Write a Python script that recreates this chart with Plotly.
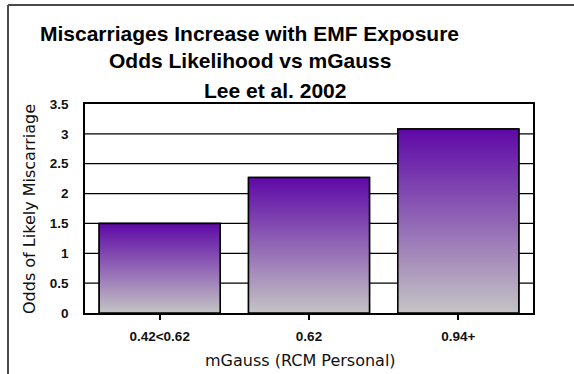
import plotly.graph_objects as go

# Odds of likely miscarriage by personal magnetic field exposure (Lee et al. 2002)
categories = ["0.42<0.62", "0.62", "0.94+"]
odds = [1.5, 2.27, 3.08]
y_ticks = [0, 0.5, 1, 1.5, 2, 2.5, 3, 3.5]
y_tick_labels = ["0", "0.5", "1", "1.5", "2", "2.5", "3", "3.5"]

title_lines = [
    "Miscarriages Increase with EMF Exposure",
    "Odds Likelihood vs mGauss",
    "Lee et al. 2002",
]
x_title = "mGauss (RCM Personal)"
y_title = "Odds of Likely Miscarriage"

BAR_WIDTH = 0.81
TOP_COLOR = "#5e08a6"
BOTTOM_COLOR = "#c4c4c4"
FONT = "Liberation Sans, Arial, sans-serif"
WIDE_FONT = "DejaVu Sans, sans-serif"

W, H = 574, 374
M_L, M_R, M_T, M_B = 85, 41, 104, 61
PLOT_W = W - M_L - M_R
PLOT_H = H - M_T - M_B


def px_x(px):
    return (px - M_L) / PLOT_W


def px_y(py):
    return 1 + (M_T - py) / PLOT_H


xs = list(range(len(categories)))

fig = go.Figure()

# horizontal grid lines behind the bars
for t in y_ticks[1:-1]:
    fig.add_shape(type="line", xref="paper", yref="y", x0=0, x1=1, y0=t, y1=t,
                  line=dict(color="black", width=1.3), layer="below")

# base bars (outlined), with a vertical gradient fill laid over each one
fig.add_trace(go.Bar(
    x=xs, y=odds, width=BAR_WIDTH,
    marker=dict(color="#9070b4", line=dict(color="black", width=1.5)),
    hoverinfo="x+y", showlegend=False,
))

half = BAR_WIDTH / 2
for x, v in zip(xs, odds):
    fig.add_trace(go.Scatter(
        x=[x - half, x - half, x + half, x + half, x - half],
        y=[0, v, v, 0, 0],
        mode="lines",
        fill="toself",
        fillgradient=dict(type="vertical",
                          colorscale=[[0, BOTTOM_COLOR], [1, TOP_COLOR]]),
        line=dict(color="black", width=1.5),
        hoverinfo="skip", showlegend=False,
    ))

# title lines
title_y = [33, 61, 90]
title_x = [249, 250, 275]
annotations = []
for text, px, py in zip(title_lines, title_x, title_y):
    annotations.append(dict(
        text="<b>%s</b>" % text,
        xref="paper", yref="paper", x=px_x(px), y=px_y(py),
        xanchor="center", yanchor="middle", showarrow=False,
        font=dict(family=FONT, size=21, color="black"),
    ))

# axis titles
annotations.append(dict(
    text=x_title, xref="paper", yref="paper", x=px_x(300), y=px_y(360),
    xanchor="center", yanchor="middle", showarrow=False,
    font=dict(family=WIDE_FONT, size=16, color="#111"),
))
annotations.append(dict(
    text=y_title, xref="paper", yref="paper", x=px_x(29), y=px_y(209),
    xanchor="center", yanchor="middle", showarrow=False, textangle=-90,
    font=dict(family=WIDE_FONT, size=16, color="#111"),
))

# outer frame (top and left edges visible)
frame_left = px_x(8)
frame_top = px_y(5)
fig.add_shape(type="line", xref="paper", yref="paper",
              x0=frame_left, x1=px_x(W + 5), y0=frame_top, y1=frame_top,
              line=dict(color="#4a4a4a", width=2))
fig.add_shape(type="line", xref="paper", yref="paper",
              x0=frame_left, x1=frame_left, y0=frame_top, y1=px_y(H + 5),
              line=dict(color="#4a4a4a", width=2))

fig.update_layout(
    width=W, height=H,
    margin=dict(l=M_L, r=M_R, t=M_T, b=M_B, autoexpand=False),
    paper_bgcolor="white", plot_bgcolor="white",
    annotations=annotations,
    showlegend=False,
    xaxis=dict(
        range=[-0.5, len(categories) - 0.5],
        tickvals=xs, ticktext=categories,
        ticks="outside", ticklen=5, tickwidth=1.5, tickcolor="black",
        ticklabelstandoff=5,
        showgrid=False, zeroline=False,
        showline=True, linecolor="black", linewidth=1.5, mirror=True,
        tickfont=dict(family=FONT, size=13.5, color="#111", weight="bold"),
        fixedrange=True,
    ),
    yaxis=dict(
        range=[0, 3.5],
        tickvals=y_ticks, ticktext=y_tick_labels,
        ticks="outside", ticklen=12, tickcolor="rgba(0,0,0,0)",
        showgrid=False, zeroline=False,
        showline=True, linecolor="black", linewidth=1.5, mirror=True,
        tickfont=dict(family=FONT, size=13.5, color="#111", weight="bold"),
        fixedrange=True,
    ),
)

fig.write_html("out.html")
